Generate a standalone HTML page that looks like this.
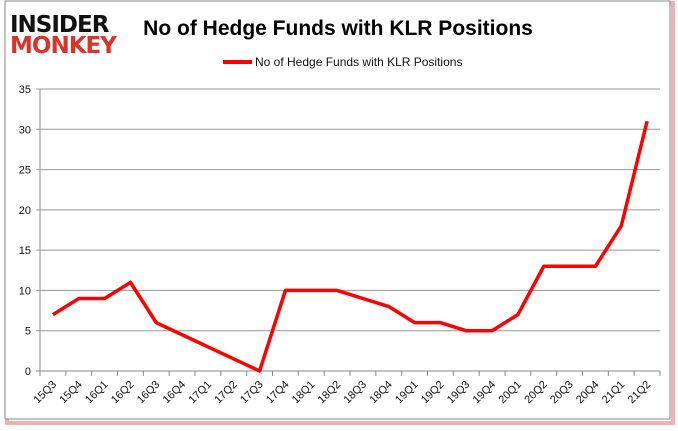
<!DOCTYPE html>
<html><head><meta charset="utf-8"><style>
body{margin:0;width:678px;height:431px;background:#fff;overflow:hidden;font-family:"Liberation Sans",sans-serif}
svg{display:block}
</style></head><body>
<svg width="678" height="431">
<rect x="0" y="0" width="678" height="431" fill="#fff"/>
<rect x="7" y="3" width="666" height="420" fill="none" stroke="#f3b0b0" stroke-width="4"/>
<rect x="5" y="1" width="665" height="418" fill="#fff" stroke="#888" stroke-width="1"/>
<g>
<text x="10" y="32" font-size="23" font-weight="bold" fill="#111" font-family="'DejaVu Sans',sans-serif" letter-spacing="-1">INSIDER</text>
<text x="10" y="53" font-size="23" font-weight="bold" fill="#d9342b" font-family="'DejaVu Sans',sans-serif" letter-spacing="-1">MONKEY</text>
</g>
<text x="338" y="35" font-size="21" font-weight="bold" text-anchor="middle" fill="#000">No of Hedge Funds with KLR Positions</text>
<line x1="223" y1="62" x2="252" y2="62" stroke="#f00" stroke-width="4"/>
<text x="255" y="66" font-size="12" fill="#111">No of Hedge Funds with KLR Positions</text>
<g id="grid"></g><g id="ax"></g><path id="line" fill="none" stroke="#f00" stroke-width="3.5" stroke-linejoin="round"/>
</svg>
<script>
const categories=["15Q3","15Q4","16Q1","16Q2","16Q3","16Q4","17Q1","17Q2","17Q3","17Q4","18Q1","18Q2","18Q3","18Q4","19Q1","19Q2","19Q3","19Q4","20Q1","20Q2","20Q3","20Q4","21Q1","21Q2"];
const values=[7,9,9,11,6,4.5,3,1.5,0,10,10,10,9,8,6,6,5,5,7,13,13,13,18,31];
const yTicks=[0,5,10,15,20,25,30,35];
const X0=40,X1=660,Y0=371,Y1=89,YMAX=35;
const step=(X1-X0)/categories.length;
const xs=i=>X0+step*(i+0.5), ys=v=>Y0-(v/YMAX)*(Y0-Y1);
const NS="http://www.w3.org/2000/svg";
const g=document.getElementById('grid'),ax=document.getElementById('ax');
function mk(tag,attrs,parent){const e=document.createElementNS(NS,tag);for(const k in attrs)e.setAttribute(k,attrs[k]);parent.appendChild(e);return e;}
yTicks.forEach(t=>{
 const l=mk('line',{x1:X0-4,x2:X1,y1:ys(t),y2:ys(t),stroke:t===0?'#888':'#999','stroke-width':1},g);
 
 
 const tx=mk('text',{x:X0-9,y:ys(t)+4,'font-size':11,'text-anchor':'end',fill:'#111'},ax);
 tx.textContent=t;
 
 
});
const yl=mk('line',{x1:X0,x2:X0,y1:Y1,y2:Y0,stroke:'#888'},ax);


categories.forEach((c,i)=>{
 const tk=mk('line',{x1:X0+step*i,x2:X0+step*i,y1:Y0,y2:Y0+5,stroke:'#888'},ax);
 
 
 const x=xs(i)+4,y=Y0+14;
 const tx=mk('text',{x:x,y:y,'font-size':11,'text-anchor':'end',fill:'#111',transform:`rotate(-45 ${x} ${y})`},ax);
 tx.textContent=c;
 
 
});
const tk=mk('line',{x1:X1,x2:X1,y1:Y0,y2:Y0+5,stroke:'#888'},ax);


document.getElementById('line').setAttribute('d',values.map((v,i)=>(i?'L':'M')+xs(i)+' '+ys(v)).join(' '));
</script>
</body></html>
